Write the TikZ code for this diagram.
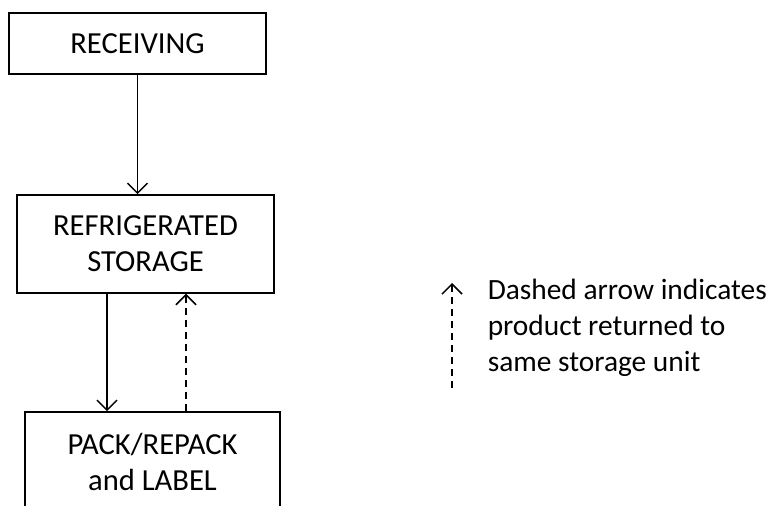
\documentclass[tikz,border=0pt]{standalone}
\usepackage{fontspec}
\setmainfont{Carlito}
\usetikzlibrary{arrows.meta}
\begin{document}
\begin{tikzpicture}[x=0.5pt,y=-0.5pt,line width=0.75pt]
  \tikzstyle{stage}=[draw,align=center,font=\fontsize{15.3}{18}\selectfont,minimum width=128.5pt,inner sep=0pt]
  \tikzstyle{note}=[align=left,font=\fontsize{14.7}{18}\selectfont,inner sep=0pt,anchor=west]
  \tikzstyle{flow}=[-{Straight Barb[length=5pt,width=10pt]}]
  \tikzstyle{back}=[flow,dash pattern=on 3.5pt off 2.5pt]
  \clip (0,0) rectangle (775,506);
  % stages
  \node[stage,minimum height=30.5pt] (REC) at (137.5,43.5) {RECEIVING};
  \node[stage,minimum height=49pt] (REF) at (145.5,244) {REFRIGERATED\\STORAGE};
  \node[stage,minimum width=127.5pt,minimum height=50pt] (PACK) at (152.5,462) {PACK/REPACK\\and LABEL};
  % flow
  \draw[flow] (REC.south) -- (REC.south |- REF.north);
  \draw[flow] ([xshift=-19.25pt]REF.south) -- ([xshift=-19.25pt]REF.south |- PACK.north);
  \draw[back] ([xshift=20.25pt]REF.south |- PACK.north) -- ([xshift=20.25pt]REF.south);
  % key
  \coordinate (keybot) at (452,388);
  \coordinate (keytop) at (452,283);
  \draw[back] (keybot) -- (keytop);
  \node[note] (keytext) at (487,328) {Dashed arrow indicates\\product returned to\\same storage unit};
\end{tikzpicture}
\end{document}
